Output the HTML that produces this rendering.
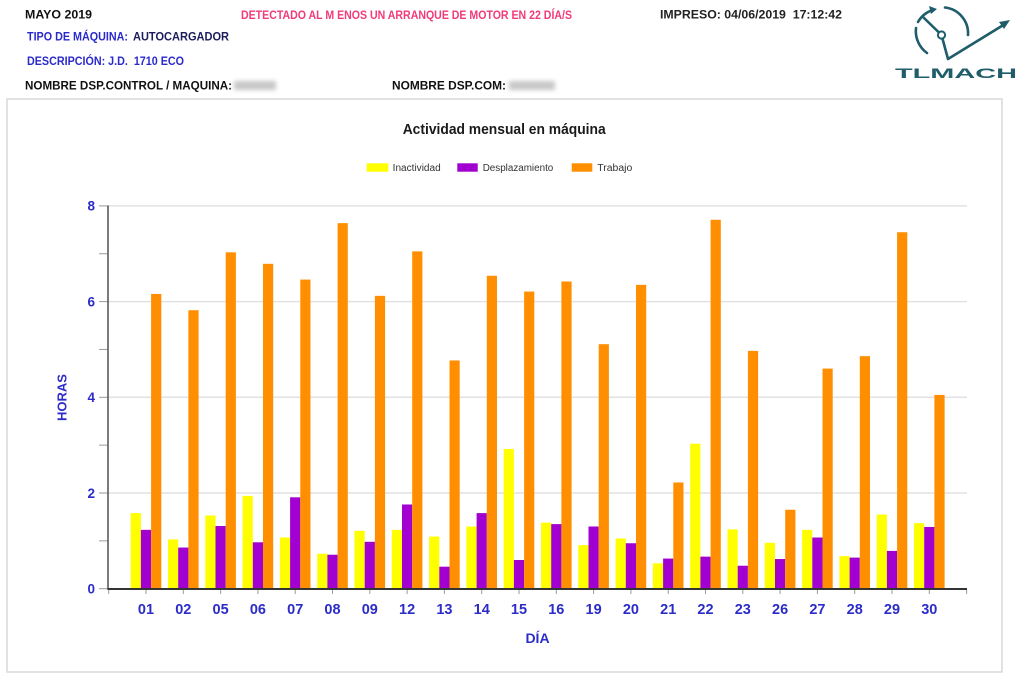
<!DOCTYPE html>
<html>
<head>
<meta charset="utf-8">
<style>
html,body{margin:0;padding:0;background:#fff;}
svg{display:block;}
text{font-family:"Liberation Sans","DejaVu Sans",sans-serif;white-space:pre;}
.h{font-weight:bold;font-size:12px;}
.yl{font-weight:bold;font-size:13.5px;fill:#2c2cc8;}
.xl{font-weight:bold;font-size:14.5px;fill:#2c2cc8;}
.lg{font-size:10px;fill:#333;}
.Y{fill:#ffff00;}
.P{fill:#a100d0;}
.O{fill:#ff8f00;}
</style>
</head>
<body>
<svg width="1024" height="693" viewBox="0 0 1024 693" xmlns="http://www.w3.org/2000/svg">
<defs>
<filter id="bl" x="-20%" y="-50%" width="140%" height="200%"><feGaussianBlur stdDeviation="2"/></filter>
</defs>
<rect x="0" y="0" width="1024" height="693" fill="#fff"/>

<!-- Header -->
<text class="h" x="25" y="18.5" textLength="67" lengthAdjust="spacingAndGlyphs" fill="#111">MAYO 2019</text>
<text class="h" x="241" y="19" textLength="331" lengthAdjust="spacingAndGlyphs" fill="#f23a78">DETECTADO AL M ENOS UN ARRANQUE DE MOTOR EN 22 DÍA/S</text>
<text class="h" x="660" y="18.5" textLength="182" lengthAdjust="spacingAndGlyphs" fill="#222">IMPRESO: 04/06/2019  17:12:42</text>
<text class="h" x="27" y="40.5" textLength="101" lengthAdjust="spacingAndGlyphs" fill="#2a2acc">TIPO DE MÁQUINA:</text>
<text class="h" x="133" y="40.5" textLength="96" lengthAdjust="spacingAndGlyphs" fill="#1c1c5c">AUTOCARGADOR</text>
<text class="h" x="27" y="65" textLength="157" lengthAdjust="spacingAndGlyphs" fill="#2a2acc">DESCRIPCIÓN: J.D.  1710 ECO</text>
<text class="h" x="25" y="89.5" textLength="207" lengthAdjust="spacingAndGlyphs" fill="#111">NOMBRE DSP.CONTROL / MAQUINA:</text>
<rect x="234" y="81" width="42" height="9" fill="#c8c8c8" filter="url(#bl)"/>
<text class="h" x="392" y="89.5" textLength="114" lengthAdjust="spacingAndGlyphs" fill="#111">NOMBRE DSP.COM:</text>
<rect x="509" y="81" width="46" height="9" fill="#c8c8c8" filter="url(#bl)"/>

<!-- Logo -->
<g stroke="#1f5d6b" stroke-width="2.6" fill="none" stroke-linecap="round" stroke-linejoin="round">
  <path d="M945,7.5 A26,26 0 0 1 968,35"/>
  <path d="M916,28 A27,27 0 0 0 927,53"/>
  <path d="M918,22 A26,26 0 0 1 933,10"/>
  <path d="M941.5,35 L923,17"/>
  <path d="M941.5,35 L948,59 L1005,24"/>
</g>
<polygon points="937,9 929,6 931,14" fill="#1f5d6b"/>
<polygon points="1010,20 999,22 1004,29" fill="#1f5d6b"/>
<circle cx="941.5" cy="35" r="3.6" fill="#fff" stroke="#1f5d6b" stroke-width="2"/>
<text x="895" y="78" font-size="14" font-weight="bold" textLength="122" lengthAdjust="spacingAndGlyphs" fill="#1f5d6b">TLMACH</text>

<!-- Chart frame -->
<rect x="7" y="99" width="995" height="573" fill="none" stroke="#dadada" stroke-width="1.6"/>

<!-- Title -->
<text x="402.7" y="134" font-size="14.5" font-weight="bold" textLength="203" lengthAdjust="spacingAndGlyphs" fill="#1a1a1a">Actividad mensual en máquina</text>

<!-- Legend -->
<rect x="366.7" y="163.3" width="21.6" height="8.4" class="Y"/>
<text class="lg" x="392.7" y="171" textLength="48" lengthAdjust="spacingAndGlyphs">Inactividad</text>
<rect x="457.3" y="163.3" width="20.4" height="8.4" class="P"/>
<text class="lg" x="482.7" y="171" textLength="70.6" lengthAdjust="spacingAndGlyphs">Desplazamiento</text>
<rect x="571.7" y="163.3" width="20.6" height="8.4" class="O"/>
<text class="lg" x="597.3" y="171" textLength="35" lengthAdjust="spacingAndGlyphs">Trabajo</text>

<!-- Gridlines -->
<g stroke="#e2e2e2" stroke-width="1.5">
  <line x1="108" y1="205.9" x2="967" y2="205.9"/>
  <line x1="108" y1="301.6" x2="967" y2="301.6"/>
  <line x1="108" y1="397.3" x2="967" y2="397.3"/>
  <line x1="108" y1="493.0" x2="967" y2="493.0"/>
</g>
<!-- Y ticks -->
<g stroke="#9a9a9a" stroke-width="1">
  <line x1="99" y1="205.9" x2="108" y2="205.9"/>
  <line x1="99" y1="253.75" x2="108" y2="253.75"/>
  <line x1="99" y1="301.6" x2="108" y2="301.6"/>
  <line x1="99" y1="349.45" x2="108" y2="349.45"/>
  <line x1="99" y1="397.3" x2="108" y2="397.3"/>
  <line x1="99" y1="445.15" x2="108" y2="445.15"/>
  <line x1="99" y1="493.0" x2="108" y2="493.0"/>
  <line x1="99" y1="540.85" x2="108" y2="540.85"/>
  <line x1="99" y1="588.7" x2="108" y2="588.7"/>
</g>
<!-- X ticks -->
<g stroke="#9a9a9a" stroke-width="1">
  <line x1="108.7" y1="589" x2="108.7" y2="594"/>
  <line x1="146" y1="589" x2="146" y2="594"/>
  <line x1="183.3" y1="589" x2="183.3" y2="594"/>
  <line x1="220.6" y1="589" x2="220.6" y2="594"/>
  <line x1="257.9" y1="589" x2="257.9" y2="594"/>
  <line x1="295.2" y1="589" x2="295.2" y2="594"/>
  <line x1="332.5" y1="589" x2="332.5" y2="594"/>
  <line x1="369.8" y1="589" x2="369.8" y2="594"/>
  <line x1="407.1" y1="589" x2="407.1" y2="594"/>
  <line x1="444.4" y1="589" x2="444.4" y2="594"/>
  <line x1="481.7" y1="589" x2="481.7" y2="594"/>
  <line x1="519" y1="589" x2="519" y2="594"/>
  <line x1="556.3" y1="589" x2="556.3" y2="594"/>
  <line x1="593.6" y1="589" x2="593.6" y2="594"/>
  <line x1="630.9" y1="589" x2="630.9" y2="594"/>
  <line x1="668.2" y1="589" x2="668.2" y2="594"/>
  <line x1="705.5" y1="589" x2="705.5" y2="594"/>
  <line x1="742.8" y1="589" x2="742.8" y2="594"/>
  <line x1="780.1" y1="589" x2="780.1" y2="594"/>
  <line x1="817.4" y1="589" x2="817.4" y2="594"/>
  <line x1="854.7" y1="589" x2="854.7" y2="594"/>
  <line x1="892" y1="589" x2="892" y2="594"/>
  <line x1="929.3" y1="589" x2="929.3" y2="594"/>
  <line x1="966.6" y1="589" x2="966.6" y2="594"/>
</g>

<!-- Bars -->
<g transform="translate(146,588.7) scale(1,-47.85)"><rect x="-15.3" width="10.2" height="1.58" class="Y"/><rect x="-5.1" width="10.2" height="1.23" class="P"/><rect x="5.1" width="10.2" height="6.16" class="O"/></g>
<g transform="translate(183.3,588.7) scale(1,-47.85)"><rect x="-15.3" width="10.2" height="1.03" class="Y"/><rect x="-5.1" width="10.2" height="0.86" class="P"/><rect x="5.1" width="10.2" height="5.82" class="O"/></g>
<g transform="translate(220.6,588.7) scale(1,-47.85)"><rect x="-15.3" width="10.2" height="1.53" class="Y"/><rect x="-5.1" width="10.2" height="1.31" class="P"/><rect x="5.1" width="10.2" height="7.03" class="O"/></g>
<g transform="translate(257.9,588.7) scale(1,-47.85)"><rect x="-15.3" width="10.2" height="1.94" class="Y"/><rect x="-5.1" width="10.2" height="0.97" class="P"/><rect x="5.1" width="10.2" height="6.79" class="O"/></g>
<g transform="translate(295.2,588.7) scale(1,-47.85)"><rect x="-15.3" width="10.2" height="1.07" class="Y"/><rect x="-5.1" width="10.2" height="1.91" class="P"/><rect x="5.1" width="10.2" height="6.46" class="O"/></g>
<g transform="translate(332.5,588.7) scale(1,-47.85)"><rect x="-15.3" width="10.2" height="0.73" class="Y"/><rect x="-5.1" width="10.2" height="0.71" class="P"/><rect x="5.1" width="10.2" height="7.64" class="O"/></g>
<g transform="translate(369.8,588.7) scale(1,-47.85)"><rect x="-15.3" width="10.2" height="1.21" class="Y"/><rect x="-5.1" width="10.2" height="0.98" class="P"/><rect x="5.1" width="10.2" height="6.12" class="O"/></g>
<g transform="translate(407.1,588.7) scale(1,-47.85)"><rect x="-15.3" width="10.2" height="1.23" class="Y"/><rect x="-5.1" width="10.2" height="1.76" class="P"/><rect x="5.1" width="10.2" height="7.05" class="O"/></g>
<g transform="translate(444.4,588.7) scale(1,-47.85)"><rect x="-15.3" width="10.2" height="1.09" class="Y"/><rect x="-5.1" width="10.2" height="0.46" class="P"/><rect x="5.1" width="10.2" height="4.77" class="O"/></g>
<g transform="translate(481.7,588.7) scale(1,-47.85)"><rect x="-15.3" width="10.2" height="1.30" class="Y"/><rect x="-5.1" width="10.2" height="1.58" class="P"/><rect x="5.1" width="10.2" height="6.54" class="O"/></g>
<g transform="translate(519,588.7) scale(1,-47.85)"><rect x="-15.3" width="10.2" height="2.92" class="Y"/><rect x="-5.1" width="10.2" height="0.60" class="P"/><rect x="5.1" width="10.2" height="6.21" class="O"/></g>
<g transform="translate(556.3,588.7) scale(1,-47.85)"><rect x="-15.3" width="10.2" height="1.38" class="Y"/><rect x="-5.1" width="10.2" height="1.35" class="P"/><rect x="5.1" width="10.2" height="6.42" class="O"/></g>
<g transform="translate(593.6,588.7) scale(1,-47.85)"><rect x="-15.3" width="10.2" height="0.91" class="Y"/><rect x="-5.1" width="10.2" height="1.30" class="P"/><rect x="5.1" width="10.2" height="5.11" class="O"/></g>
<g transform="translate(630.9,588.7) scale(1,-47.85)"><rect x="-15.3" width="10.2" height="1.05" class="Y"/><rect x="-5.1" width="10.2" height="0.95" class="P"/><rect x="5.1" width="10.2" height="6.35" class="O"/></g>
<g transform="translate(668.2,588.7) scale(1,-47.85)"><rect x="-15.3" width="10.2" height="0.53" class="Y"/><rect x="-5.1" width="10.2" height="0.63" class="P"/><rect x="5.1" width="10.2" height="2.22" class="O"/></g>
<g transform="translate(705.5,588.7) scale(1,-47.85)"><rect x="-15.3" width="10.2" height="3.03" class="Y"/><rect x="-5.1" width="10.2" height="0.67" class="P"/><rect x="5.1" width="10.2" height="7.71" class="O"/></g>
<g transform="translate(742.8,588.7) scale(1,-47.85)"><rect x="-15.3" width="10.2" height="1.24" class="Y"/><rect x="-5.1" width="10.2" height="0.48" class="P"/><rect x="5.1" width="10.2" height="4.97" class="O"/></g>
<g transform="translate(780.1,588.7) scale(1,-47.85)"><rect x="-15.3" width="10.2" height="0.96" class="Y"/><rect x="-5.1" width="10.2" height="0.62" class="P"/><rect x="5.1" width="10.2" height="1.65" class="O"/></g>
<g transform="translate(817.4,588.7) scale(1,-47.85)"><rect x="-15.3" width="10.2" height="1.23" class="Y"/><rect x="-5.1" width="10.2" height="1.07" class="P"/><rect x="5.1" width="10.2" height="4.60" class="O"/></g>
<g transform="translate(854.7,588.7) scale(1,-47.85)"><rect x="-15.3" width="10.2" height="0.68" class="Y"/><rect x="-5.1" width="10.2" height="0.65" class="P"/><rect x="5.1" width="10.2" height="4.86" class="O"/></g>
<g transform="translate(892,588.7) scale(1,-47.85)"><rect x="-15.3" width="10.2" height="1.55" class="Y"/><rect x="-5.1" width="10.2" height="0.79" class="P"/><rect x="5.1" width="10.2" height="7.45" class="O"/></g>
<g transform="translate(929.3,588.7) scale(1,-47.85)"><rect x="-15.3" width="10.2" height="1.37" class="Y"/><rect x="-5.1" width="10.2" height="1.29" class="P"/><rect x="5.1" width="10.2" height="4.05" class="O"/></g>

<!-- Axes -->
<line x1="108" y1="205.5" x2="108" y2="589.5" stroke="#5a5a5a" stroke-width="1.6"/>
<line x1="107.5" y1="589" x2="967" y2="589" stroke="#333" stroke-width="2"/>

<!-- Y labels -->
<text class="yl" x="95" y="210.7" text-anchor="end">8</text>
<text class="yl" x="95" y="306.4" text-anchor="end">6</text>
<text class="yl" x="95" y="402.1" text-anchor="end">4</text>
<text class="yl" x="95" y="497.8" text-anchor="end">2</text>
<text class="yl" x="95" y="593.5" text-anchor="end">0</text>
<text x="66.7" y="397.5" font-size="13" font-weight="bold" fill="#2c2cc8" text-anchor="middle" transform="rotate(-90 66.7 397.5)">HORAS</text>

<!-- X labels -->
<g text-anchor="middle">
<text class="xl" x="146" y="614">01</text>
<text class="xl" x="183.3" y="614">02</text>
<text class="xl" x="220.6" y="614">05</text>
<text class="xl" x="257.9" y="614">06</text>
<text class="xl" x="295.2" y="614">07</text>
<text class="xl" x="332.5" y="614">08</text>
<text class="xl" x="369.8" y="614">09</text>
<text class="xl" x="407.1" y="614">12</text>
<text class="xl" x="444.4" y="614">13</text>
<text class="xl" x="481.7" y="614">14</text>
<text class="xl" x="519" y="614">15</text>
<text class="xl" x="556.3" y="614">16</text>
<text class="xl" x="593.6" y="614">19</text>
<text class="xl" x="630.9" y="614">20</text>
<text class="xl" x="668.2" y="614">21</text>
<text class="xl" x="705.5" y="614">22</text>
<text class="xl" x="742.8" y="614">23</text>
<text class="xl" x="780.1" y="614">26</text>
<text class="xl" x="817.4" y="614">27</text>
<text class="xl" x="854.7" y="614">28</text>
<text class="xl" x="892" y="614">29</text>
<text class="xl" x="929.3" y="614">30</text>
<text x="537.5" y="643" font-size="14" font-weight="bold" fill="#2c2cc8">DÍA</text>
</g>
</svg>
</body>
</html>
